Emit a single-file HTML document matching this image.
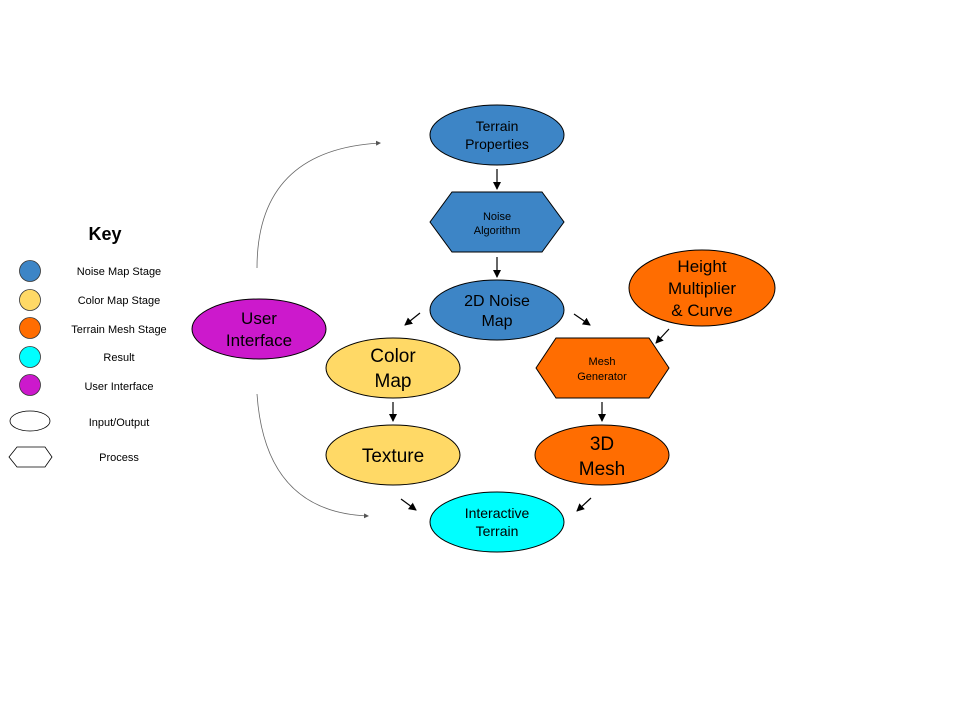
<!DOCTYPE html>
<html><head><meta charset="utf-8"><style>
html,body{margin:0;padding:0;background:#fff;}
svg{display:block;}
text{font-family:"Liberation Sans",Arial,sans-serif;fill:#000;}
</style></head><body>
<svg width="960" height="720" viewBox="0 0 960 720" xmlns="http://www.w3.org/2000/svg">
<defs>
<marker id="a" markerWidth="8" markerHeight="8" refX="7" refY="4" orient="auto" markerUnits="userSpaceOnUse">
<path d="M0,0 L8,4 L0,8 z" fill="#000"/></marker>
<marker id="g" markerWidth="5" markerHeight="5" refX="4" refY="2.5" orient="auto" markerUnits="userSpaceOnUse">
<path d="M0,0 L5,2.5 L0,5 z" fill="#555"/></marker>
</defs>
<g stroke="#000" stroke-width="1">
<ellipse cx="497" cy="135" rx="67" ry="30" fill="#3d85c6"/>
<polygon points="430,222 452,192 542,192 564,222 542,252 452,252" fill="#3d85c6"/>
<ellipse cx="497" cy="310" rx="67" ry="30" fill="#3d85c6"/>
<ellipse cx="393" cy="368" rx="67" ry="30" fill="#ffd966"/>
<ellipse cx="393" cy="455" rx="67" ry="30" fill="#ffd966"/>
<polygon points="536,368 556,338 649,338 669,368 649,398 556,398" fill="#ff6d01"/>
<ellipse cx="602" cy="455" rx="67" ry="30" fill="#ff6d01"/>
<ellipse cx="702" cy="288" rx="73" ry="38" fill="#ff6d01"/>
<ellipse cx="259" cy="329" rx="67" ry="30" fill="#cc19cc"/>
<ellipse cx="497" cy="522" rx="67" ry="30" fill="#00ffff"/>
</g>
<g stroke="#000" stroke-width="1.2" fill="none">
<line x1="497" y1="169" x2="497" y2="189" marker-end="url(#a)"/>
<line x1="497" y1="257" x2="497" y2="277" marker-end="url(#a)"/>
<line x1="420" y1="313" x2="405" y2="325" marker-end="url(#a)"/>
<line x1="574" y1="314" x2="590" y2="325" marker-end="url(#a)"/>
<line x1="669" y1="329" x2="656" y2="343" marker-end="url(#a)"/>
<line x1="393" y1="402" x2="393" y2="421" marker-end="url(#a)"/>
<line x1="602" y1="402" x2="602" y2="421" marker-end="url(#a)"/>
<line x1="401" y1="499" x2="416" y2="510" marker-end="url(#a)"/>
<line x1="591" y1="498" x2="577" y2="511" marker-end="url(#a)"/>
</g>
<g stroke="#666" stroke-width="0.8" fill="none">
<path d="M257,268 Q257,150 380,143" marker-end="url(#g)"/>
<path d="M257,394 Q265,512 368,516" marker-end="url(#g)"/>
</g>
<g text-anchor="middle">
<text x="497" y="131" font-size="14">Terrain</text>
<text x="497" y="149" font-size="14">Properties</text>
<text x="497" y="220" font-size="11">Noise</text>
<text x="497" y="234" font-size="11">Algorithm</text>
<text x="497" y="306" font-size="16">2D Noise</text>
<text x="497" y="326" font-size="16">Map</text>
<text x="393" y="362" font-size="19">Color</text>
<text x="393" y="387" font-size="19">Map</text>
<text x="393" y="462" font-size="19">Texture</text>
<text x="602" y="365" font-size="11">Mesh</text>
<text x="602" y="380" font-size="11">Generator</text>
<text x="602" y="450" font-size="19">3D</text>
<text x="602" y="475" font-size="19">Mesh</text>
<text x="702" y="272" font-size="17">Height</text>
<text x="702" y="294" font-size="17">Multiplier</text>
<text x="702" y="316" font-size="17">&amp; Curve</text>
<text x="259" y="324" font-size="17">User</text>
<text x="259" y="346" font-size="17">Interface</text>
<text x="497" y="518" font-size="14">Interactive</text>
<text x="497" y="536" font-size="14">Terrain</text>
<text x="105" y="240" font-size="18" font-weight="bold">Key</text>
<text x="119" y="275" font-size="11">Noise Map Stage</text>
<text x="119" y="304" font-size="11">Color Map Stage</text>
<text x="119" y="333" font-size="11">Terrain Mesh Stage</text>
<text x="119" y="361" font-size="11">Result</text>
<text x="119" y="390" font-size="11">User Interface</text>
<text x="119" y="426" font-size="11">Input/Output</text>
<text x="119" y="461" font-size="11">Process</text>
</g>
<g stroke="#333" stroke-width="0.8">
<circle cx="30" cy="271" r="10.5" fill="#3d85c6"/>
<circle cx="30" cy="300" r="10.5" fill="#ffd966"/>
<circle cx="30" cy="328" r="10.5" fill="#ff6d01"/>
<circle cx="30" cy="357" r="10.5" fill="#00ffff"/>
<circle cx="30" cy="385" r="10.5" fill="#cc19cc"/>
<ellipse cx="30" cy="421" rx="20" ry="10" fill="#fff" stroke="#000"/>
<polygon points="9,457 17,447 45,447 52,457 45,467 17,467" fill="#fff" stroke="#000"/>
</g>
</svg>
</body></html>
